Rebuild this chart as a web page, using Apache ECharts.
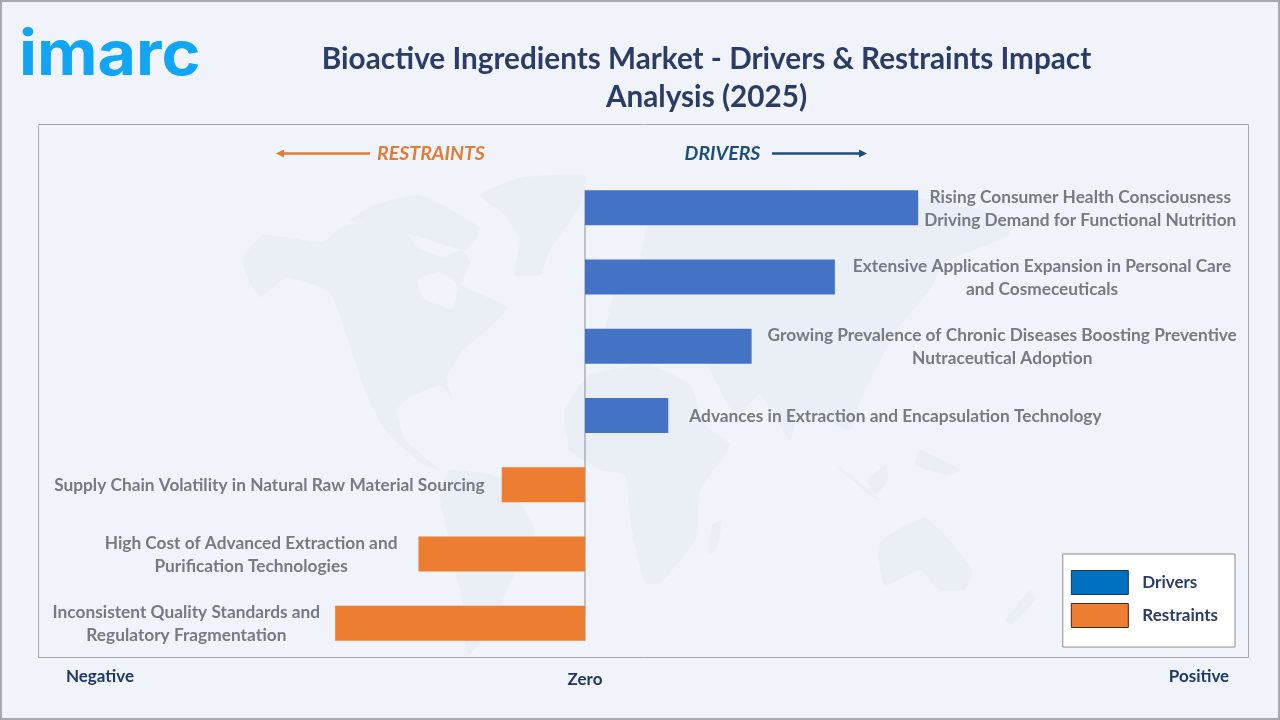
<!DOCTYPE html>
<html><head><meta charset="utf-8">
<style>html,body{margin:0;padding:0;background:#f0f3f9}#c{width:1280px;height:720px}</style>
<script src="https://cdn.jsdelivr.net/npm/echarts@6/dist/echarts.min.js"></script>
</head><body><div id="c"></div>
<script>
const titleLines = ['Bioactive Ingredients Market - Drivers & Restraints Impact','Analysis (2025)'];
const categories = [
 'Rising Consumer Health Consciousness\nDriving Demand for Functional Nutrition',
 'Extensive Application Expansion in Personal Care\nand Cosmeceuticals',
 'Growing Prevalence of Chronic Diseases Boosting Preventive\nNutraceutical Adoption',
 'Advances in Extraction and Encapsulation Technology',
 'Supply Chain Volatility in Natural Raw Material Sourcing',
 'High Cost of Advanced Extraction and\nPurification Technologies',
 'Inconsistent Quality Standards and\nRegulatory Fragmentation'];
const driverValues = [4,3,2,1,null,null,null];
const restraintValues = [null,null,null,null,-1,-2,-3];
const axisWords = ['Negative','Zero','Positive'];
const labelGaps = [6,18,16,21,17,21,15];

const FONT='Lato';
const LABEL_SIZE=17.3;
const ctx=document.createElement('canvas').getContext('2d');
ctx.font='bold '+LABEL_SIZE+'px '+FONT;
const halfW=t=>Math.max(...t.split('\n').map(s=>ctx.measureText(s).width))/2;
const mk=(vals,sign)=>vals.map((v,i)=>v==null?null:{value:v,label:{
  show:true,position:sign>0?'right':'left',distance:0,align:'center',verticalAlign:'middle',
  offset:[sign*(labelGaps[i]+halfW(categories[i])),1],
  formatter:categories[i],color:'#767a82',fontFamily:FONT,fontWeight:'bold',fontSize:LABEL_SIZE,lineHeight:23}});

const bgLand='#eaeef5', bg='#f0f3f9';
const land=[
 [[243,258],[263,235],[323,242],[345,225],[400,225],[417,247],[443,257],[462,250],[470,262],[462,285],[507,307],[487,330],[463,350],[447,377],[452,400],[441,385],[410,397],[397,410],[405,440],[440,470],[420,462],[385,430],[365,390],[347,337],[330,293],[287,277],[260,297],[247,277]],
 [[480,195],[520,178],[585,175],[580,205],[550,250],[540,275],[515,275],[520,240],[505,215]],
 [[350,220],[375,205],[420,195],[480,228],[465,250],[430,240],[390,228]],
 [[450,470],[500,478],[535,530],[512,580],[482,640],[468,655],[462,600],[447,530],[440,495]],
 [[590,375],[650,365],[690,385],[705,425],[730,445],[700,490],[695,540],[660,583],[645,583],[632,530],[625,475],[600,470],[570,450],[565,410]],
 [[610,310],[600,355],[640,345],[700,355],[735,415],[760,395],[790,440],[800,410],[850,430],[860,400],[880,360],[900,325],[930,290],[945,262],[1010,235],[1000,215],[900,195],[800,190],[700,210],[650,215],[640,260],[615,290]],
 [[878,545],[905,525],[925,518],[945,535],[972,570],[965,590],[940,590],[920,570],[885,585]],
 [[712,525],[722,520],[716,550],[709,555]],
 [[1030,590],[1035,600],[1012,625],[1006,620]],
 [[835,465],[850,475],[880,500],[870,495]],
 [[868,480],[885,465],[888,480],[875,495]],
 [[920,450],[960,470],[945,475],[915,465]],
 [[585,265],[595,255],[598,280],[588,285]]
];
const landG=land.map(p=>({type:'polygon',z:0,silent:true,shape:{points:p,smooth:0.15},style:{fill:bgLand}}));
const hudson={type:'polygon',z:0,silent:true,shape:{points:[[417,280],[440,272],[458,285],[452,310],[440,305],[425,300]],smooth:0.2},style:{fill:bg}};
const T=(x,y,text,o)=>Object.assign({type:'text',z:5,x,y,style:Object.assign({text,fill:'#1f3864',font:'bold 17px '+FONT,align:'center',verticalAlign:'middle'},o||{})});
const Lg=(x1,x2,y,c)=>({type:'line',z:5,shape:{x1,y1:y,x2,y2:y},style:{stroke:c,lineWidth:2.5}});
const Tri=(pts,c)=>({type:'polygon',z:5,shape:{points:pts},style:{fill:c}});

const chart=echarts.init(document.getElementById('c'),null,{renderer:'canvas'});
chart.setOption({
 animation:false,backgroundColor:bg,
 title:{text:titleLines.join('\n'),left:701.5,top:35,textAlign:'center',
   textStyle:{color:'#2b3c66',fontFamily:FONT,fontWeight:'bold',fontSize:29.7,lineHeight:38}},
 legend:{show:true,right:45,top:554,orient:'vertical',itemWidth:57,itemHeight:24,itemGap:8,
   padding:[16,17,19,8],backgroundColor:'#ffffff',borderColor:'#8c8c8c',borderWidth:1,
   textStyle:{color:'#2b3c66',fontFamily:FONT,fontWeight:'bold',fontSize:17,padding:[0,0,0,9]},
   data:[{name:'Drivers',icon:'rect',itemStyle:{color:'#0070c0',borderColor:'#1f3350',borderWidth:1}},
         {name:'Restraints',icon:'rect',itemStyle:{color:'#ed7d31',borderColor:'#3a2a20',borderWidth:1}}]},
 grid:{left:85.3,width:1166,top:173,height:485},
 xAxis:{type:'value',min:-6,max:8,interval:1,axisLine:{show:false},axisTick:{show:false},axisLabel:{show:false},splitLine:{show:false}},
 yAxis:{type:'category',inverse:true,data:categories,axisLine:{show:false},axisTick:{show:false},axisLabel:{show:false}},
 series:[
  {name:'Drivers',type:'bar',barWidth:35,barGap:'-100%',z:3,data:mk(driverValues,1),itemStyle:{color:'#4472c4'}},
  {name:'Restraints',type:'bar',barWidth:35,z:3,data:mk(restraintValues,-1),itemStyle:{color:'#ed7d31'}}
 ],
 graphic:[
  {type:'rect',z:1,silent:true,shape:{x:1,y:1,width:1278,height:718},style:{fill:'none',stroke:'#a8a8ad',lineWidth:2}},
  ...landG,hudson,
  {type:'rect',z:1,silent:true,shape:{x:38.5,y:124.5,width:1210,height:533},style:{fill:'none',stroke:'#a6a8ad',lineWidth:1}},
  {type:'text',z:5,x:19,y:25,scaleX:1.07,style:{text:'imarc',fill:'#10a5f5',font:'700 62px Inter',align:'left'}},
  Lg(282,370,153.5,'#e07b39'),Tri([[276,153.5],[284,149.5],[284,157.5]],'#e07b39'),
  T(431,153.5,'RESTRAINTS',{fill:'#e07b39',font:'italic bold 19.5px '+FONT}),
  T(722.5,153.5,'DRIVERS',{fill:'#1f4e79',font:'italic bold 19.5px '+FONT}),
  Lg(772,861,153.5,'#1f4e79'),Tri([[867,153.5],[859,149.5],[859,157.5]],'#1f4e79'),
  T(100,677,axisWords[0]),T(585,680,axisWords[1]),T(1199,677,axisWords[2])
 ]
});
// zero line spans the bars only, located through the axis scales
const x0=chart.convertToPixel({xAxisIndex:0},0);
const yTop=chart.convertToPixel({yAxisIndex:0},0)-17.5, yBot=chart.convertToPixel({yAxisIndex:0},categories.length-1)+17.5;
chart.setOption({graphic:[{id:'zero',type:'line',z:2,silent:true,shape:{x1:x0,y1:yTop,x2:x0,y2:yBot},style:{stroke:'#8c8f96',lineWidth:1}}]});
</script></body></html>
